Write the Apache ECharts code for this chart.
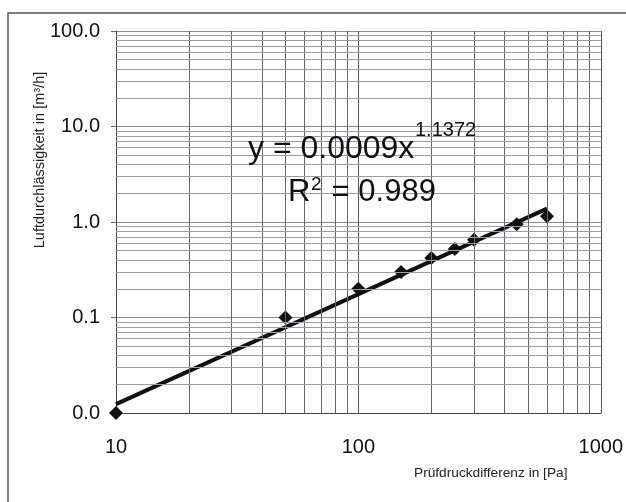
<!DOCTYPE html>
<html>
<head>
<meta charset="utf-8">
<script src="https://cdn.jsdelivr.net/npm/echarts@6/dist/echarts.min.js"></script>
<style>
  html, body { margin: 0; padding: 0; background: #fff; }
  #main { width: 626px; height: 502px; }
</style>
</head>
<body>
<div id="main"></div>
<script>
var druck = [10, 50, 100, 150, 200, 250, 300, 450, 600];
var volumen = [0.01, 0.1, 0.2, 0.3, 0.42, 0.52, 0.65, 0.95, 1.15];

var trendX = [10, 600];
var trendY = [0.0124, 1.38];

// Hilfslinien (log-Papier)
var xMinor = [20, 30, 40, 50, 60, 70, 80, 90, 200, 300, 400, 500, 600, 700, 800, 900];
var yMinor = [0.02, 0.03, 0.04, 0.05, 0.06, 0.07, 0.08, 0.09,
              0.2, 0.3, 0.4, 0.5, 0.6, 0.7, 0.8, 0.9,
              2, 3, 4, 5, 6, 7, 8, 9,
              20, 30, 40, 50, 60, 70, 80, 90];

var font = 'Liberation Sans, Arial, sans-serif';

var punkte = [];
for (var i = 0; i < druck.length; i++) {
    punkte.push([druck[i], volumen[i]]);
}
var trend = [];
for (var i = 0; i < trendX.length; i++) {
    trend.push([trendX[i], trendY[i]]);
}

var hilfslinien = [];
xMinor.forEach(function (v) { hilfslinien.push({xAxis: v, lineStyle: {color: '#666'}}); });
yMinor.forEach(function (v) { hilfslinien.push({yAxis: v, lineStyle: {color: '#9a9aa8'}}); });

var chart = echarts.init(document.getElementById('main'));
var option = {
    backgroundColor: '#fff',
    animation: false,
    grid: {left: 116, right: 21, top: 31, bottom: 89},
    xAxis: {
        type: 'log',
        logBase: 10,
        min: 10,
        max: 1000,
        axisLine: {show: true, lineStyle: {color: '#444', width: 1}},
        axisTick: {show: false},
        splitLine: {show: true, lineStyle: {color: '#555', width: 1}},
        axisLabel: {
            color: '#111', fontSize: 20, fontFamily: font, margin: 24,
            formatter: function (v) { return String(Math.round(v)); }
        }
    },
    yAxis: {
        type: 'log',
        logBase: 10,
        min: 0.01,
        max: 100,
        axisLine: {show: true, lineStyle: {color: '#444', width: 1}},
        axisTick: {show: true, length: 5, lineStyle: {color: '#666'}},
        splitLine: {show: true, lineStyle: {color: '#8a8a9a', width: 1}},
        axisLabel: {
            color: '#111', fontSize: 20, fontFamily: font, margin: 16,
            formatter: function (v) { return Number(v).toFixed(1); }
        }
    },
    series: [
        {
            type: 'scatter',
            data: [],
            z: 1,
            silent: true,
            markLine: {
                silent: true,
                symbol: 'none',
                animation: false,
                label: {show: false},
                lineStyle: {type: 'solid', width: 1},
                data: hilfslinien
            }
        },
        {
            type: 'line',
            data: trend,
            z: 3,
            showSymbol: false,
            symbol: 'none',
            lineStyle: {color: '#111', width: 4}
        },
        {
            type: 'scatter',
            data: punkte,
            z: 4,
            clip: false,
            symbol: 'diamond',
            symbolSize: 14,
            itemStyle: {color: '#111', opacity: 1}
        }
    ],
    graphic: [
        {
            type: 'rect',
            shape: {x: 8, y: 13, width: 700, height: 600},
            style: {fill: 'none', stroke: '#555', lineWidth: 1.5},
            z: 0
        },
        {
            type: 'text', left: 248, top: 133, z: 10,
            style: {text: 'y = 0.0009x', fontSize: 32, fontFamily: font, fill: '#111'}
        },
        {
            type: 'text', left: 415, top: 120, z: 10,
            style: {text: '1.1372', fontSize: 20, fontFamily: font, fill: '#111'}
        },
        {
            type: 'text', left: 288, top: 177, z: 10,
            style: {text: 'R', fontSize: 31, fontFamily: font, fill: '#111'}
        },
        {
            type: 'text', left: 311, top: 175, z: 10,
            style: {text: '2', fontSize: 19, fontFamily: font, fill: '#111'}
        },
        {
            type: 'text', left: 323, top: 177, z: 10,
            style: {text: ' = 0.989', fontSize: 31, fontFamily: font, fill: '#111'}
        },
        {
            type: 'text', left: 414, top: 466, z: 10,
            style: {text: 'Prüfdruckdifferenz in [Pa]', fontSize: 13.7, fontFamily: font, fill: '#222'}
        },
        {
            type: 'text', x: 40, y: 160, rotation: Math.PI / 2, z: 10,
            style: {
                text: 'Luftdurchlässigkeit in [m³/h]', fontSize: 14.5, fontFamily: font, fill: '#222',
                align: 'center', verticalAlign: 'middle'
            }
        }
    ]
};
if (option && typeof option === "object") {
    chart.setOption(option, true);
}
</script>
</body>
</html>
